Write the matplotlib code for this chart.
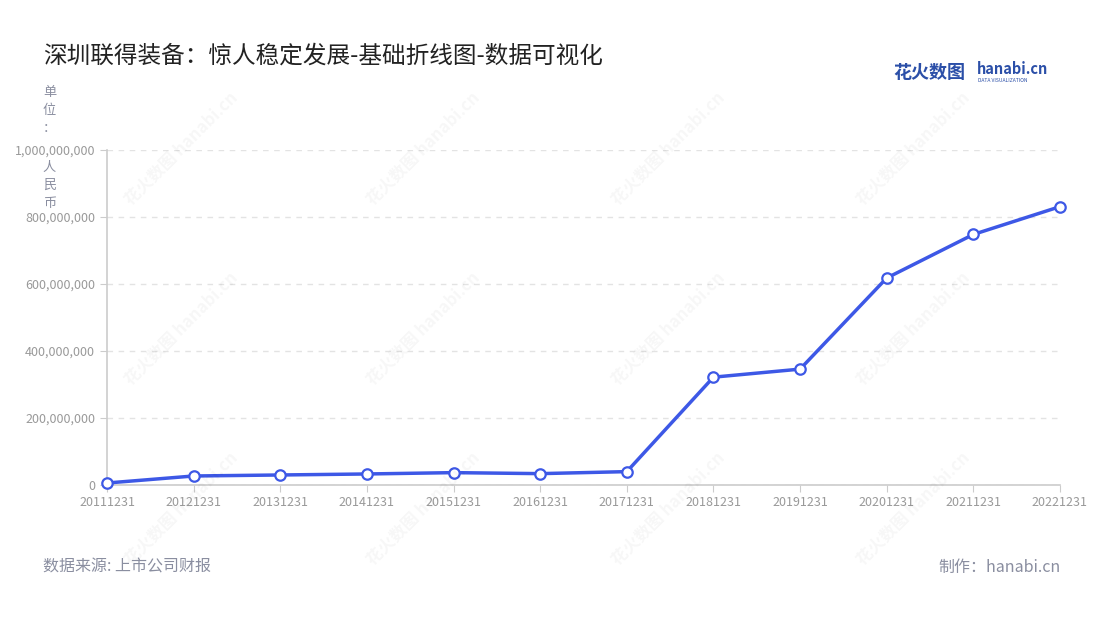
import matplotlib.pyplot as plt
from matplotlib.ticker import FuncFormatter

plt.rcParams['font.family'] = ['Noto Sans CJK SC', 'DejaVu Sans']

# ============= data =============
dates = ['20111231', '20121231', '20131231', '20141231', '20151231', '20161231',
         '20171231', '20181231', '20191231', '20201231', '20211231', '20221231']
values = [6e6, 27e6, 30e6, 33e6, 37e6, 34e6,
          40e6, 322e6, 346e6, 618e6, 748e6, 831e6]
y_ticks = [0, 2e8, 4e8, 6e8, 8e8, 1e9]

title = '深圳联得装备：惊人稳定发展-基础折线图-数据可视化'
unit_top = '单位：'
unit_bottom = '人民币'
source = '数据来源: 上市公司财报'
maker = '制作：hanabi.cn'

line_color = '#3d58e6'
gray = '#8a8ea0'

# ============= plotting =============
fig = plt.figure(figsize=(11, 6.2), dpi=100)
ax = fig.add_axes([0.0973, 0.2177, 0.8663, 0.5403])

x = list(range(len(dates)))
ax.plot(x, values, color=line_color, lw=2.5, marker='o', ms=7.5,
        mfc='white', mec=line_color, mew=1.6, zorder=5, clip_on=False)

ax.set_xlim(0, len(dates) - 1)
ax.set_ylim(0, 1e9)
ax.set_xticks(x)
ax.set_xticklabels(dates)
ax.set_yticks(y_ticks)
ax.yaxis.set_major_formatter(FuncFormatter(lambda v, p: f'{int(v):,}'))

ax.grid(axis='y', color='#e3e3e3', ls=(0, (4, 4)), lw=1)
ax.set_axisbelow(True)
for s in ['top', 'right']:
    ax.spines[s].set_visible(False)
ax.spines['left'].set_color('#cccccc')
ax.spines['bottom'].set_color('#cccccc')
ax.spines['left'].set_linewidth(1.2)
ax.spines['bottom'].set_linewidth(1.2)
ax.tick_params(axis='both', colors='#cccccc', labelcolor='#999999',
               labelsize=9, length=5)
ax.tick_params(axis='x', pad=3)

# watermarks
for wx in [0.165, 0.385, 0.607, 0.83]:
    for wy in [0.76, 0.47, 0.18]:
        fig.text(wx, wy, '花火数图 hanabi.cn', rotation=45, fontsize=12,
                 color='#000000', alpha=0.035, ha='center', va='center',
                 fontweight='bold')

# texts
fig.text(0.039, 0.91, title, fontsize=17, color='#222222', va='center')
fig.text(0.045, 0.862, '\n'.join(unit_top), fontsize=9.5, color=gray,
         va='top', ha='center', linespacing=1.5)
fig.text(0.045, 0.741, '\n'.join(unit_bottom), fontsize=9.5, color=gray,
         va='top', ha='center', linespacing=1.5)
fig.text(0.039, 0.085, source, fontsize=11.5, color=gray, va='center')
fig.text(0.964, 0.085, maker, fontsize=11.5, color=gray, va='center', ha='right')

# logo
fig.text(0.812, 0.883, '花火数图', fontsize=13, color='#2b4fa8',
         fontweight='bold', va='center')
fig.text(0.888, 0.889, 'hanabi.cn', fontsize=10.5, color='#2b4fa8',
         fontweight='bold', va='center')
fig.text(0.889, 0.870, 'DATA VISUALIZATION', fontsize=3.6, color='#2b4fa8',
         va='center')

fig.savefig('out.png', dpi=100)
